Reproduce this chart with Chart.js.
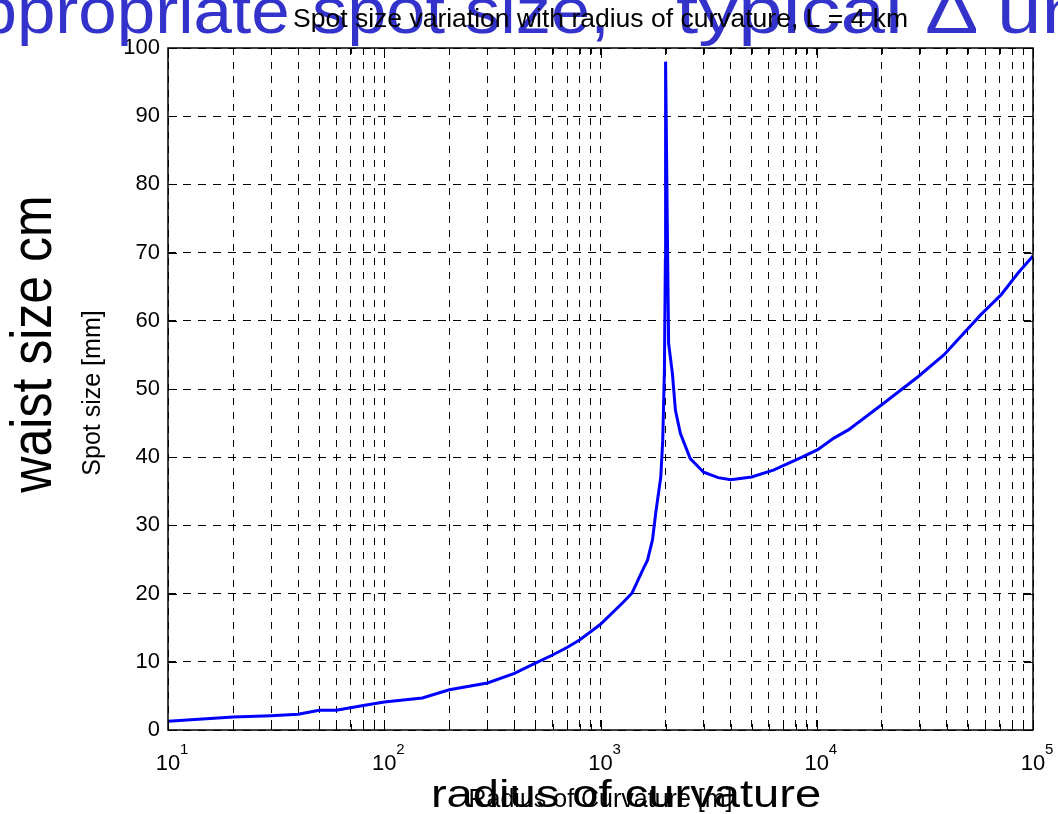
<!DOCTYPE html>
<html>
<head>
<meta charset="utf-8">
<title>Spot size variation with radius of curvature</title>
<script src="https://cdn.jsdelivr.net/npm/chart.js@4.4.1/dist/chart.umd.min.js"></script>
<style>
    html, body { margin: 0; padding: 0; background: #fff; }
    #spotChart { display: block; }
</style>
</head>
<body>
<canvas id="spotChart" width="1058" height="814"></canvas>
<script>
// radius of curvature [m] and spot size [mm], L = 4 km
const radius = [10, 20, 30, 40, 50, 60, 80, 100, 150, 200, 300, 400, 500, 600, 700, 800, 900, 1000,
    1280, 1400, 1580, 1650, 1740, 1800, 1900, 1940, 1960, 1975, 1995, 2000, 2040, 2065, 2150, 2220,
    2340, 2600, 3000, 3500, 4000, 5000, 6300, 8400, 10100, 12000, 14000, 20400, 29400, 38700,
    57400, 71100, 85300, 100000];
const spotSize = [1.3, 1.9, 2.1, 2.3, 2.9, 2.9, 3.6, 4.1, 4.7, 5.9, 6.9, 8.3, 9.8, 11.0, 12.1, 13.2, 14.4, 15.5,
    18.8, 20.1, 23.7, 24.9, 27.9, 31.8, 37.1, 42.5, 48.4, 52.8, 69.0, 98.0, 71.8, 56.7, 52.3, 46.9,
    43.5, 39.8, 37.8, 37.0, 36.7, 37.1, 38.1, 39.9, 41.1, 42.8, 44.0, 47.9, 51.8, 55.0,
    60.9, 63.8, 67.0, 69.5];

const yTicks = [0, 10, 20, 30, 40, 50, 60, 70, 80, 90, 100];
const xDecades = [1, 2, 3, 4, 5];

const chartTitle = "Spot size variation with radius of curvature, L = 4 km";
const xLabel = "Radius of Curvature [m]";
const yLabel = "Spot size [mm]";
const bigXLabel = "radius of curvature";
const bigYLabel = "waist size cm";
const bannerWords = ["appropriate", "spot", "size,", "typical", "\u0394", "un"];

const fontFamily = "'Liberation Sans', Arial, Helvetica, sans-serif";
Chart.defaults.font.family = fontFamily;

// 1..9 x 10^k positions for the log grid
function logGridValues() {
    const values = [];
    for (let i = 0; i < xDecades.length - 1; i++) {
        const base = Math.pow(10, xDecades[i]);
        for (let m = 1; m < 10; m++) values.push(base * m);
    }
    values.push(Math.pow(10, xDecades[xDecades.length - 1]));
    return values;
}

function isDecade(v) {
    return Math.abs(Math.log10(v) - Math.round(Math.log10(v))) < 1e-9;
}

function drawText(ctx, text, x, y, size, opts) {
    const o = opts || {};
    ctx.save();
    ctx.translate(x, y);
    if (o.rotate) ctx.rotate(o.rotate);
    ctx.scale(o.sx || 1, o.sy || 1);
    ctx.font = size + "px " + fontFamily;
    ctx.fillStyle = o.color || "#000";
    ctx.textAlign = o.align || "center";
    ctx.textBaseline = "alphabetic";
    ctx.fillText(text, 0, 0);
    ctx.restore();
}

// banner runs off both edges of the canvas, words placed one by one
function drawBanner(ctx) {
    const wordX = [-60, 312, 465, 676, 925, 997];
    const wordScale = [1.08, 1.1, 1.1, 1.25, 1.25, 1.25];
    bannerWords.forEach((w, i) => {
        drawText(ctx, w, wordX[i], 33, 64, { sx: wordScale[i], align: "left", color: "#3333cc" });
    });
}

const framePlugin = {
    id: "frame",
    afterDraw(chart) {
        const ctx = chart.ctx;
        const a = chart.chartArea;
        const x = chart.scales.x;
        const y = chart.scales.y;

        ctx.save();
        ctx.strokeStyle = "#000";
        ctx.lineWidth = 1;
        ctx.beginPath();
        yTicks.forEach(v => {
            const py = Math.round(y.getPixelForValue(v)) + 0.5;
            ctx.moveTo(a.left, py); ctx.lineTo(a.left + 9, py);
            ctx.moveTo(a.right, py); ctx.lineTo(a.right - 9, py);
        });
        logGridValues().forEach(v => {
            const px = Math.round(x.getPixelForValue(v)) + 0.5;
            const len = isDecade(v) ? 10 : 6;
            ctx.moveTo(px, a.bottom); ctx.lineTo(px, a.bottom - len);
            ctx.moveTo(px, a.top); ctx.lineTo(px, a.top + len);
        });
        ctx.stroke();

        ctx.lineWidth = 1.5;
        ctx.strokeRect(a.left, a.top, a.right - a.left, a.bottom - a.top);
        ctx.restore();

        // x tick labels: 10 with the exponent raised
        xDecades.forEach(e => {
            const px = x.getPixelForValue(Math.pow(10, e));
            drawText(ctx, "10", px, a.bottom + 40, 22);
            drawText(ctx, String(e), px + 12, a.bottom + 24, 15, { align: "left" });
        });

        // large overlay labels
        drawBanner(ctx);
        drawText(ctx, bigYLabel, 51, 344, 50, { rotate: -Math.PI / 2, sy: 1.16 });
        drawText(ctx, bigXLabel, 626, 807, 38, { sx: 1.24 });

        // axis titles and title
        drawText(ctx, chartTitle, (a.left + a.right) / 2, 27, 26.5);
        drawText(ctx, yLabel, 100, 393, 25, { rotate: -Math.PI / 2 });
        drawText(ctx, xLabel, (a.left + a.right) / 2, 807, 25);
    }
};

const ctx = document.getElementById("spotChart").getContext("2d");

new Chart(ctx, {
    type: "line",
    data: {
        datasets: [{
            label: yLabel,
            data: radius.map((r, i) => ({ x: r, y: spotSize[i] })),
            borderColor: "#0000ff",
            borderWidth: 3,
            pointRadius: 0,
            tension: 0,
            fill: false
        }]
    },
    options: {
        responsive: false,
        animation: false,
        devicePixelRatio: 1,
        layout: { padding: { left: 0, right: 25, top: 48, bottom: 0 } },
        plugins: {
            legend: { display: false },
            tooltip: { enabled: false }
        },
        scales: {
            x: {
                type: "logarithmic",
                min: 10,
                max: 100000,
                ticks: { display: false },
                afterBuildTicks: scale => {
                    scale.ticks = logGridValues().map(v => ({ value: v }));
                },
                afterFit: scale => { scale.height = 84; },
                grid: { color: "#000", lineWidth: 1, drawTicks: false },
                border: { display: false, dash: [7, 7] }
            },
            y: {
                min: 0,
                max: 100,
                ticks: {
                    stepSize: 10,
                    color: "#000",
                    padding: 8,
                    font: { size: 22 }
                },
                afterFit: scale => { scale.width = 168; },
                grid: { color: "#000", lineWidth: 1, drawTicks: false },
                border: { display: false, dash: [8, 7] }
            }
        }
    },
    plugins: [framePlugin]
});
</script>
</body>
</html>
